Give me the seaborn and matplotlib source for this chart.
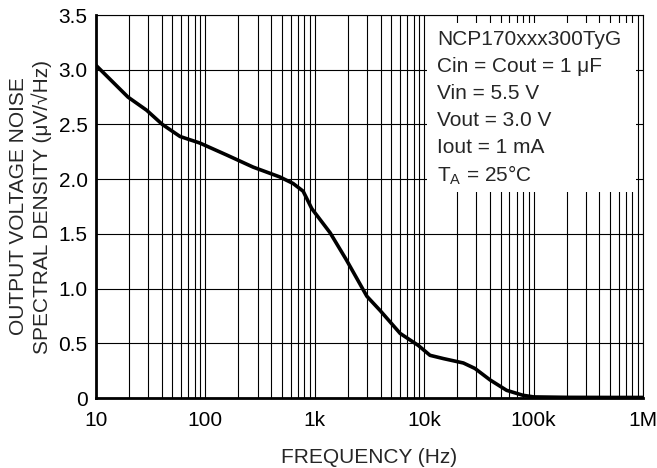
import numpy as np
import pandas as pd
import matplotlib
matplotlib.use('Agg')
import matplotlib.pyplot as plt
import seaborn as sns
from matplotlib.patches import Rectangle
from matplotlib.ticker import FixedLocator, LogLocator, NullFormatter

# noise curve
freq_hz = [10, 19.6, 29, 40.4, 58.6, 89, 157, 273, 479, 634, 782, 939, 1380,
           1950, 2990, 3950, 6030, 8840, 11300, 15000, 22800, 29100, 40000,
           56700, 79800, 100000, 200000, 500000, 1000000]
noise_uv = [3.04, 2.75, 2.63, 2.50, 2.39, 2.33, 2.22, 2.11, 2.02, 1.96, 1.89, 1.73, 1.51,
            1.26, 0.93, 0.80, 0.59, 0.48, 0.39, 0.36, 0.32, 0.27, 0.165,
            0.07, 0.025, 0.01, 0.006, 0.005, 0.005]

x_ticks = [10, 100, 1e3, 1e4, 1e5, 1e6]
x_labels = ['10', '100', '1k', '10k', '100k', '1M']
y_ticks = [0, 0.5, 1.0, 1.5, 2.0, 2.5, 3.0, 3.5]
y_labels = ['0', '0.5', '1.0', '1.5', '2.0', '2.5', '3.0', '3.5']
cond_lines = ['NCP170xxx300TyG', 'Cin = Cout = 1 \u03bcF', 'Vin = 5.5 V',
              'Vout = 3.0 V', 'Iout = 1 mA', 'T$_\\mathregular{A}$ = 25\u00b0C']

sns.set_style('white')
plt.rcParams['font.family'] = ['Liberation Sans', 'DejaVu Sans']
plt.rcParams['mathtext.fontset'] = 'custom'
plt.rcParams['mathtext.rm'] = 'Liberation Sans'

FS = 15

df = pd.DataFrame({'f': freq_hz, 'v': noise_uv})

fig = plt.figure(figsize=(6.57, 4.68), dpi=100)
ax = fig.add_axes([96 / 657, 1 - 398 / 468, 547 / 657, 383 / 468])

sns.lineplot(data=df, x='f', y='v', ax=ax, color='black', lw=2.6, zorder=5)

ax.set_xscale('log')
ax.set_xlim(10, 1e6)
ax.set_ylim(0, 3.5)
ax.xaxis.set_major_locator(FixedLocator(x_ticks))
ax.set_xticklabels(x_labels)
ax.xaxis.set_minor_locator(LogLocator(base=10, subs=np.arange(2, 10)))
ax.xaxis.set_minor_formatter(NullFormatter())
ax.set_yticks(y_ticks)
ax.set_yticklabels(y_labels)
ax.tick_params(which='both', length=0, labelsize=FS, colors='black')
ax.tick_params(axis='x', pad=9)
ax.tick_params(axis='y', pad=6)

ax.grid(True, which='both', axis='x', color='black', lw=0.8)
ax.grid(True, which='major', axis='y', color='black', lw=0.8)
ax.set_axisbelow(True)

for side in ['left', 'bottom']:
    ax.spines[side].set_linewidth(2)
    ax.spines[side].set_color('black')
for side in ['top', 'right']:
    ax.spines[side].set_linewidth(0.8)
    ax.spines[side].set_color('black')

# white box behind the test conditions
ax.add_patch(Rectangle((0.605, 0.538), 0.382, 0.441, transform=ax.transAxes,
                       facecolor='white', edgecolor='none', zorder=3))
for i, line in enumerate(cond_lines):
    ax.text(0.623, 0.935 - i * 0.0705, line, transform=ax.transAxes,
            fontsize=FS, va='center', ha='left', zorder=4)

ax.set_xlabel('FREQUENCY (Hz)', fontsize=FS, labelpad=13)
ax.set_ylabel('OUTPUT VOLTAGE NOISE\nSPECTRAL DENSITY (\u03bcV/\u221aHz)', fontsize=FS,
              labelpad=5, linespacing=1.2)

fig.savefig('out.png', dpi=100, facecolor='white')
